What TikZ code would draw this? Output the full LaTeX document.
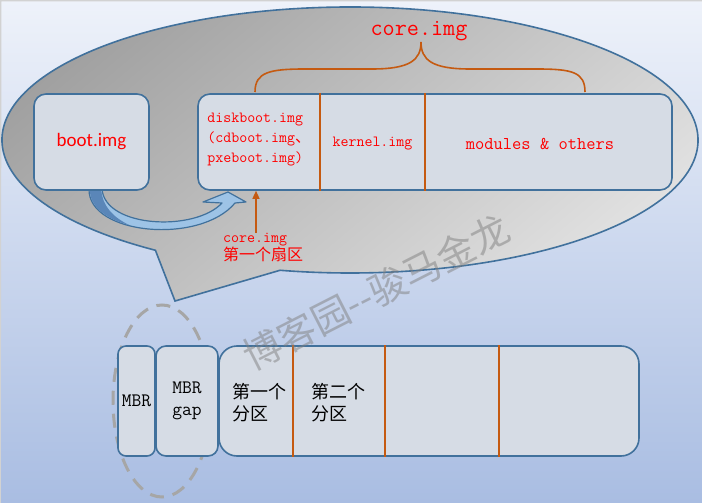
\documentclass[tikz,border=0pt]{standalone}
\usepackage{fontspec}
\usetikzlibrary{positioning,calc,arrows.meta}
\newfontfamily\cjk{Noto Sans CJK SC}
\newfontfamily\calib{Carlito}
\definecolor{bgtop}{HTML}{EEF2FA}
\definecolor{bgbot}{HTML}{A9BDE2}
\definecolor{edgeblue}{HTML}{41719C}
\definecolor{boxfill}{HTML}{D6DCE5}
\definecolor{rust}{HTML}{C55A11}
\definecolor{arrowblue}{HTML}{9DC3E6}
\definecolor{arrowdark}{HTML}{5A86B8}
\definecolor{bubbledark}{HTML}{9E9E9E}
\definecolor{bubblelight}{HTML}{E4E4E4}
\definecolor{dashgray}{HTML}{A6A6A6}

\begin{document}
\begin{tikzpicture}[x=1pt, y=-1pt,
    imgbox/.style={draw=edgeblue, line width=1.6pt, fill=boxfill, rounded corners=12pt, inner sep=0pt},
    redtt/.style={text=red, font=\ttfamily\fontsize{15.5}{20}\selectfont},
    blacktt/.style={text=black, font=\ttfamily\fontsize{19}{22}\selectfont},
    part/.style={text=black, font=\cjk\fontsize{18}{22}\selectfont, align=left},
    divider/.style={rust, line width=1.4pt}]
    \useasboundingbox (0,0) rectangle (702,503);

    % Background
    \fill[top color=bgtop, bottom color=bgbot] (0,0) rectangle (702,503);
    \draw[gray!35, line width=1.5pt] (0,503) -- (0.75,0.75) -- (702,0.75);

    % Callout
    \draw[edgeblue, line width=1.6pt, top color=bubbledark, bottom color=bubblelight, shading angle=40]
        (175,301) -- ($(350,140)+(124:348 and 133)$)
        arc[start angle=124, end angle=461.6, x radius=348, y radius=133] -- cycle;

    % Curved arrow from boot.img
    \path[fill=arrowblue, draw=edgeblue, line width=1.2pt, line join=round]
        (89,189) .. controls (88,235) and (200,245) .. (235,203) -- (246,202) -- (228,192)
        -- (203,202) -- (222,203) .. controls (195,232) and (105,228) .. (102,189) -- cycle;
    \fill[arrowdark] (89.8,189) .. controls (89.4,207) and (106.6,219.2) .. (129.8,225.3)
        .. controls (112,217) and (102,205) .. (101.2,189) -- cycle;

    % Upper boxes
    \node[imgbox, minimum width=115pt, minimum height=96pt, text=red, font=\calib\fontsize{19}{22}\selectfont]
        (bootimg) at (91.5,142) {boot.img};
    \node[imgbox, minimum width=474pt, minimum height=96pt] (corebox) at (435,142) {};
    \foreach \x/\n in {320/a, 425/b} {
        \coordinate (cut\n) at (\x,0);
        \draw[divider] (corebox.north -| cut\n) -- (corebox.south -| cut\n);
    }
    \node[redtt, align=left] (diskimg) at (259,140) {diskboot.img\\(cdboot.img{\cjk 、}\\pxeboot.img)};
    \node[redtt] (kernelimg) at (372.5,144) {kernel.img};
    \node[text=red, font=\ttfamily\fontsize{18}{20}\selectfont] (modimg) at (540,144) {modules \& others};

    % Brace over core.img
    \node[text=red, font=\ttfamily\fontsize{23.5}{26}\selectfont] (corelabel) at (419,31) {core.img};
    \draw[rust, line width=1.6pt]
        (255,92) .. controls (255,72) and (270,69) .. (305,69) -- (372,69)
        .. controls (410,69) and (421,60) .. (421,42)
        .. controls (421,60) and (432,69) .. (470,69) -- (537,69)
        .. controls (572,69) and (585,72) .. (585,92);

    % First sector
    \node[anchor=north west, align=left, text=red, inner sep=0pt, font=\fontsize{15.5}{18}\selectfont]
        (sector) at (223,233) {{\ttfamily core.img}\\{\cjk\fontsize{16}{18}\selectfont 第一个扇区}};
    \coordinate (cutc) at (256,0);
    \draw[divider, -{Triangle[length=8pt, width=7pt]}] (sector.north -| cutc) -- (corebox.south -| cutc);

    % Disk layout
    \draw[dashgray, line width=3pt, dash pattern=on 14pt off 9pt] (162,401) ellipse [x radius=49, y radius=96];
    \node[imgbox, rounded corners=8pt, minimum width=37pt, minimum height=110pt, blacktt] (mbr) at (136.5,401) {MBR};
    \node[imgbox, rounded corners=10pt, minimum width=62pt, minimum height=110pt, blacktt, align=center]
        (mbrgap) at (187,401) {MBR\\gap};
    \node[imgbox, rounded corners=18pt, minimum width=420pt, minimum height=110pt] (parts) at (429,401) {};
    \foreach \x/\n in {293/d, 385/e, 499/f} {
        \coordinate (cut\n) at (\x,0);
        \draw[divider] (parts.north -| cut\n) -- (parts.south -| cut\n);
    }
    \node[part] (firstpart) at (259,403) {第一个\\分区};
    \node[part] (secondpart) at (338,403) {第二个\\分区};

    % Watermark
    \node[rotate=27, text=gray, opacity=0.5, font=\cjk\fontsize{38}{38}\selectfont] (mark) at (376,292) {博客园--骏马金龙};
\end{tikzpicture}
\end{document}
